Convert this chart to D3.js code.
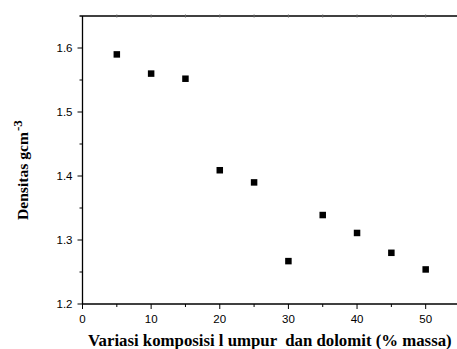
<!DOCTYPE html>
<html>
<head>
<meta charset="utf-8">
<script src="https://cdn.jsdelivr.net/npm/d3@7"></script>
<style>
  body { margin: 0; background: #fff; }
  svg { display: block; }
  .tick-label { font-family: 'Liberation Sans', Arial, sans-serif; font-size: 11.5px; }
  .title { font-family: 'Liberation Serif', 'Times New Roman', serif; font-weight: bold; white-space: pre; }
</style>
</head>
<body>
<div id="graph"></div>
<script>
// composition (% massa) and density values
const komposisi = [5, 10, 15, 20, 25, 30, 35, 40, 45, 50];
const densitas = [1.590, 1.560, 1.552, 1.409, 1.390, 1.267, 1.339, 1.311, 1.280, 1.254];
const xTicks = [0, 10, 20, 30, 40, 50];
const yTicks = [1.2, 1.3, 1.4, 1.5, 1.6];

const width = 457;
const height = 349;
const margin = { top: 16, left: 82.5, bottom: 45 };

const svg = d3.select('#graph')
  .append('svg')
  .attr('width', width)
  .attr('height', height);

const x = d3.scaleLinear().domain([0, 55]).range([margin.left, 460]);
const y = d3.scaleLinear().domain([1.2, 1.65]).range([height - margin.bottom, margin.top]);

// bottom axis: major ticks every 10, minor every 5
const xAxis = svg.append('g')
  .attr('transform', `translate(0,${y(1.2)})`);
xAxis.append('line')
  .attr('x1', x(0)).attr('x2', width)
  .attr('stroke', '#000').attr('stroke-width', 1.3);
xAxis.selectAll('.minor')
  .data(d3.range(5, 55, 10))
  .enter().append('line')
  .attr('x1', d => x(d)).attr('x2', d => x(d))
  .attr('y1', 0).attr('y2', 3)
  .attr('stroke', '#000');
xAxis.selectAll('.major')
  .data(xTicks)
  .enter().append('line')
  .attr('x1', d => x(d)).attr('x2', d => x(d))
  .attr('y1', 0).attr('y2', 5)
  .attr('stroke', '#000');
xAxis.selectAll('text')
  .data(xTicks)
  .enter().append('text')
  .attr('class', 'tick-label')
  .attr('x', d => x(d))
  .attr('y', 18.5)
  .attr('text-anchor', 'middle')
  .text(d => d);

// top axis line, small ticks
const topAxis = svg.append('g')
  .attr('transform', `translate(0,${y(1.65)})`);
topAxis.append('line')
  .attr('x1', x(0) - 3).attr('x2', width)
  .attr('stroke', '#000').attr('stroke-width', 1.3);
topAxis.selectAll('.tick')
  .data(d3.range(5, 55, 5))
  .enter().append('line')
  .attr('x1', d => x(d)).attr('x2', d => x(d))
  .attr('y1', -1.5).attr('y2', 1.5)
  .attr('stroke', '#666');

// left axis: major every 0.1, minor every 0.05
const yAxis = svg.append('g')
  .attr('transform', `translate(${x(0)},0)`);
yAxis.append('line')
  .attr('y1', y(1.2)).attr('y2', y(1.65))
  .attr('stroke', '#000').attr('stroke-width', 1.3);
yAxis.selectAll('.minor')
  .data([1.25, 1.35, 1.45, 1.55])
  .enter().append('line')
  .attr('y1', d => y(d)).attr('y2', d => y(d))
  .attr('x1', 0).attr('x2', -3)
  .attr('stroke', '#000');
yAxis.selectAll('.major')
  .data(yTicks)
  .enter().append('line')
  .attr('y1', d => y(d)).attr('y2', d => y(d))
  .attr('x1', 0).attr('x2', -5)
  .attr('stroke', '#000');
yAxis.selectAll('text')
  .data(yTicks)
  .enter().append('text')
  .attr('class', 'tick-label')
  .attr('x', -10)
  .attr('y', d => y(d))
  .attr('dy', '0.35em')
  .attr('text-anchor', 'end')
  .text(d => d.toFixed(1));

// data points as squares
const size = 6.5;
svg.append('g')
  .selectAll('rect')
  .data(komposisi.map((k, i) => ({ k, d: densitas[i] })))
  .enter().append('rect')
  .attr('x', p => x(p.k) - size / 2)
  .attr('y', p => y(p.d) - size / 2)
  .attr('width', size)
  .attr('height', size)
  .attr('fill', '#000');

// axis titles
svg.append('text')
  .attr('class', 'title')
  .attr('x', 88)
  .attr('y', 346)
  .style('font-size', '16.8px')
  .text('Variasi komposisi l umpur  dan dolomit (% massa)');

const yTitle = svg.append('text')
  .attr('class', 'title')
  .attr('transform', 'translate(28,220) rotate(-90)')
  .style('font-size', '15.6px');
yTitle.append('tspan').text('Densitas gcm');
yTitle.append('tspan')
  .attr('dy', '-6')
  .attr('dx', '1')
  .style('font-size', '13px')
  .text('-3');
</script>
</body>
</html>
